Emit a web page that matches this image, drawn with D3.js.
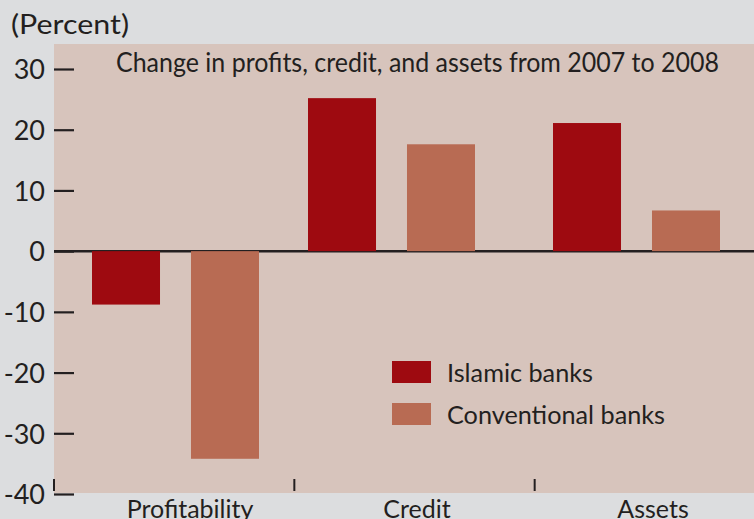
<!DOCTYPE html>
<html>
<head>
<meta charset="utf-8">
<script src="https://cdn.jsdelivr.net/npm/d3@7"></script>
<style>
  html, body { margin: 0; padding: 0; background: #dcdddf; }
  svg { display: block; }
  text { font-family: Lato, "Open Sans", sans-serif; fill: #231f20; }
</style>
</head>
<body>
<div id="chart"></div>
<script>
// データ
var categories = ['Profitability', 'Credit', 'Assets'];
var seriesNames = ['Islamic banks', 'Conventional banks'];
var islamicValues = [-8.8, 25.2, 21.1];
var conventionalValues = [-34.2, 17.6, 6.7];
var yTicks = [30, 20, 10, 0, -10, -20, -30, -40];
var titleText = 'Change in profits, credit, and assets from 2007 to 2008';
var unitText = '(Percent)';

// 領域のサイズ
var width = 754;
var height = 519;

// 描画領域
var plot = {left: 54, top: 44, right: 754, bottom: 493};

// 色
var bgColor = '#dcdddf';
var plotColor = '#d7c4bc';
var barColors = ['#9e0a10', '#b86b53'];
var inkColor = '#231f20';

var svg = d3.select('#chart').append('svg')
  .attr('width', width).attr('height', height);

svg.append('rect')
  .attr('width', width).attr('height', height)
  .attr('fill', bgColor);

svg.append('rect')
  .attr('x', plot.left).attr('y', plot.top)
  .attr('width', plot.right - plot.left).attr('height', plot.bottom - plot.top)
  .attr('fill', plotColor);

// スケール
var y = d3.scaleLinear().domain([-40, 30]).range([494, 69]);

// カテゴリ区切り
var xSep = d3.scaleBand().domain(categories).range([54, 775]);
// グループの左端 (元図は手作業配置なので位置をそのまま)
var xGroup = d3.scaleOrdinal().domain(categories).range([92, 308, 553]);
var xInner = d3.scaleBand().domain(seriesNames).range([0, 167]).paddingInner(0.313);
var xLabel = d3.scaleOrdinal().domain(categories).range([190, 417, 653]);

var rows = [];
categories.forEach(function(c, i) {
  rows.push({cat: c, series: seriesNames[0], value: islamicValues[i]});
  rows.push({cat: c, series: seriesNames[1], value: conventionalValues[i]});
});

// ゼロ線
svg.append('line')
  .attr('x1', plot.left).attr('x2', plot.right)
  .attr('y1', y(0)).attr('y2', y(0))
  .attr('stroke', inkColor).attr('stroke-width', 2.5);

// 棒
svg.append('g').selectAll('rect').data(rows).enter()
  .append('rect')
  .attr('x', function(d) { return xGroup(d.cat) + xInner(d.series); })
  .attr('width', xInner.bandwidth())
  .attr('y', function(d) { return y(Math.max(0, d.value)); })
  .attr('height', function(d) { return Math.abs(y(d.value) - y(0)); })
  .attr('fill', function(d) { return barColors[seriesNames.indexOf(d.series)]; });

// Y軸 (マイナスはハイフン)
var yAxis = d3.axisLeft(y).tickValues(yTicks)
  .tickFormat(function(d) { return String(d); })
  .tickSizeInner(-20).tickSizeOuter(0).tickPadding(9);
var yG = svg.append('g')
  .attr('transform', 'translate(' + plot.left + ',0)')
  .call(yAxis);
yG.select('.domain').remove();
yG.selectAll('.tick line').attr('stroke', inkColor).attr('stroke-width', 2.2);
yG.selectAll('.tick text')
  .attr('font-family', 'Lato, sans-serif')
  .attr('font-size', 27)
  .attr('fill', inkColor)
  .attr('dy', '0.36em');

// カテゴリ区切りの目盛り
svg.append('g').selectAll('line').data(categories).enter()
  .append('line')
  .attr('x1', function(d) { return xSep(d); })
  .attr('x2', function(d) { return xSep(d); })
  .attr('y1', 479).attr('y2', 491)
  .attr('stroke', inkColor).attr('stroke-width', 2);

// カテゴリラベル
svg.append('g').selectAll('text').data(categories).enter()
  .append('text')
  .attr('x', function(d) { return xLabel(d); })
  .attr('y', 518)
  .attr('text-anchor', 'middle')
  .attr('font-size', 25)
  .text(function(d) { return d; });

// 単位
svg.append('text')
  .attr('x', 11).attr('y', 34)
  .attr('font-size', 27)
  .attr('textLength', 118).attr('lengthAdjust', 'spacingAndGlyphs')
  .text(unitText);

// タイトル
svg.append('text')
  .attr('x', 116).attr('y', 72)
  .attr('font-size', 27)
  .attr('textLength', 603).attr('lengthAdjust', 'spacingAndGlyphs')
  .text(titleText);

// 凡例
var legendWidths = [146, 218];
var legend = svg.append('g').selectAll('g').data(seriesNames).enter()
  .append('g')
  .attr('transform', function(d, i) { return 'translate(392,' + (361 + i * 42) + ')'; });
legend.append('rect')
  .attr('width', 39).attr('height', 22)
  .attr('fill', function(d, i) { return barColors[i]; });
legend.append('text')
  .attr('x', 55).attr('y', 21)
  .attr('font-size', 25)
  .attr('textLength', function(d, i) { return legendWidths[i]; })
  .attr('lengthAdjust', 'spacingAndGlyphs')
  .text(function(d) { return d; });
</script>
</body>
</html>
